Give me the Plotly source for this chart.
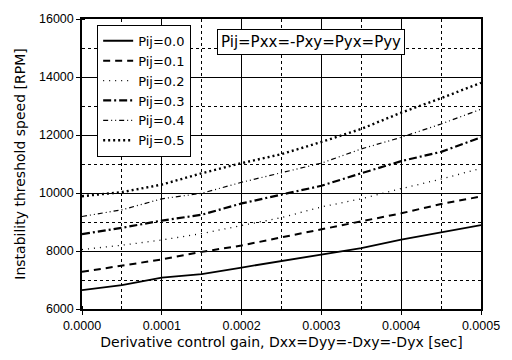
import plotly.graph_objects as go

gain = [0.0, 0.00005, 0.0001, 0.00015, 0.0002, 0.00025, 0.0003, 0.00035, 0.0004, 0.00045, 0.0005]
pij_00 = [6650, 6820, 7080, 7200, 7430, 7650, 7880, 8100, 8390, 8640, 8890]
pij_01 = [7280, 7500, 7710, 7970, 8190, 8470, 8750, 9010, 9300, 9620, 9880]
pij_02 = [8050, 8200, 8380, 8600, 8880, 9150, 9520, 9800, 10150, 10480, 10850]
pij_03 = [8580, 8800, 9050, 9250, 9640, 9950, 10250, 10680, 11100, 11420, 11920]
pij_04 = [9190, 9420, 9800, 9990, 10370, 10700, 11030, 11520, 11920, 12380, 12890]
pij_05 = [9890, 10030, 10290, 10680, 11030, 11340, 11760, 12210, 12770, 13270, 13800]

names = ["Pij=0.0", "Pij=0.1", "Pij=0.2", "Pij=0.3", "Pij=0.4", "Pij=0.5"]
series = [pij_00, pij_01, pij_02, pij_03, pij_04, pij_05]
styles = [
    dict(dash="solid", width=1.8),
    dict(dash="7px,5px", width=2),
    dict(dash="1px,5px", width=1.3),
    dict(dash="8px,3px,2px,3px", width=2.2),
    dict(dash="5px,3px,1px,3px,1px,3px", width=1.2),
    dict(dash="2px,3px", width=2.4),
]

tfont = "Liberation Sans, Arial, sans-serif"
wfont = "DejaVu Sans, Verdana, sans-serif"
fig = go.Figure()
for n, s, st in zip(names, series, styles):
    fig.add_trace(go.Scatter(x=gain, y=s, name=n, mode="lines",
                             line=dict(color="black", **st)))

axis_common = dict(
    showline=True, linecolor="black", linewidth=1.5, mirror=True,
    showgrid=True, gridcolor="black", gridwidth=1,
    ticks="outside", ticklen=4, tickcolor="black", zeroline=False,
    tickfont=dict(family=tfont, size=12.5, color="black"),
)

fig.update_xaxes(
    range=[0, 0.0005], dtick=0.0001, tick0=0, tickformat=".4f",
    minor=dict(dtick=0.00005, showgrid=True, gridcolor="black", griddash="dot",
               gridwidth=1, ticks="inside", ticklen=3, tickcolor="black"),
    title=dict(text="Derivative control gain, Dxx=Dyy=-Dxy=-Dyx [sec]",
               font=dict(family=wfont, size=14, color="black"), standoff=5),
    **axis_common,
)
fig.update_yaxes(
    range=[6000, 16000], dtick=2000, tick0=6000, tickformat="d",
    minor=dict(dtick=1000, showgrid=True, gridcolor="black", griddash="dot",
               gridwidth=1, ticks="inside", ticklen=3, tickcolor="black"),
    title=dict(text="Instability threshold speed [RPM]",
               font=dict(family=wfont, size=14, color="black"), standoff=10),
    **axis_common,
)

fig.add_annotation(
    x=0.574, y=0.92, xref="paper", yref="paper",
    xanchor="center", yanchor="middle",
    text="Pij=Pxx=-Pxy=Pyx=Pyy", showarrow=False,
    font=dict(family=wfont, size=15, color="black"),
    bgcolor="white", bordercolor="black", borderwidth=1, borderpad=3,
)

fig.update_layout(
    width=512, height=360,
    margin=dict(l=82, r=22, t=14, b=48),
    paper_bgcolor="white", plot_bgcolor="white",
    font=dict(family=tfont, size=12, color="black"),
    legend=dict(x=0.038, y=0.98, xanchor="left", yanchor="top",
                bgcolor="white", bordercolor="black", borderwidth=1,
                font=dict(family=wfont, size=13, color="black"),
                tracegroupgap=0, itemwidth=30),
    showlegend=True,
)

fig.write_html("out.html", config={"displayModeBar": False},
               post_script="document.body.style.margin='0';")
